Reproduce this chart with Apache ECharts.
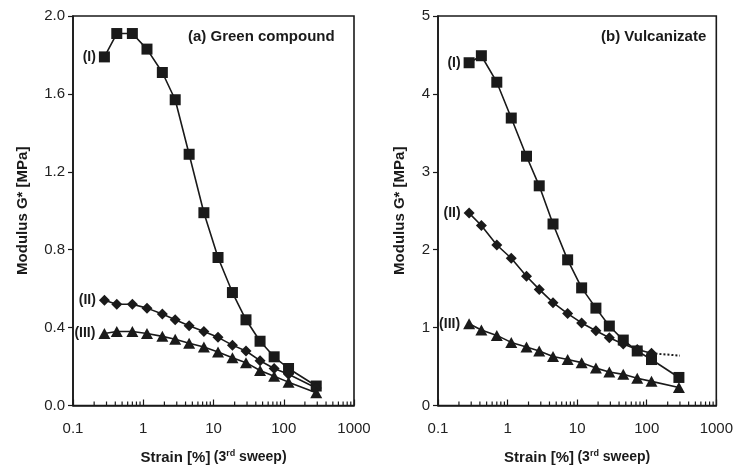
<!DOCTYPE html>
<html>
<head>
<meta charset="utf-8">
<script src="https://cdn.jsdelivr.net/npm/echarts@6/dist/echarts.min.js"></script>
<style>
  html, body { margin: 0; padding: 0; background: #fff; }
  #chart { width: 736px; height: 470px; }
</style>
</head>
<body>
<div id="chart"></div>
<script>
// strain steps (3rd sweep), shared by every curve
const strain = [0.28, 0.42, 0.7, 1.13, 1.87, 2.85, 4.5, 7.3, 11.6, 18.6, 29, 46, 73, 117, 290]

// (a) green compound, G* in MPa
const greenI = [1.79, 1.91, 1.91, 1.83, 1.71, 1.57, 1.29, 0.99, 0.76, 0.58, 0.44, 0.33, 0.25, 0.19, 0.10]
const greenII = [0.54, 0.52, 0.52, 0.50, 0.47, 0.44, 0.41, 0.38, 0.35, 0.31, 0.28, 0.23, 0.19, 0.16, 0.09]
const greenIII = [0.37, 0.38, 0.38, 0.37, 0.355, 0.34, 0.32, 0.30, 0.275, 0.245, 0.22, 0.18, 0.15, 0.12, 0.065]

// (b) vulcanizate, G* in MPa
const vulcI = [4.40, 4.49, 4.15, 3.69, 3.20, 2.82, 2.33, 1.87, 1.51, 1.25, 1.02, 0.84, 0.70, 0.59, 0.36]
const vulcII = [2.47, 2.31, 2.06, 1.89, 1.66, 1.49, 1.32, 1.18, 1.06, 0.96, 0.87, 0.79, 0.72, 0.67]
const vulcIIExtStrain = [117, 300]
const vulcIIExt = [0.67, 0.64]
const vulcIII = [1.05, 0.97, 0.90, 0.81, 0.75, 0.70, 0.63, 0.59, 0.55, 0.48, 0.43, 0.40, 0.35, 0.31, 0.23]

const curveNames = ['(I)', '(II)', '(III)']
const greenTicks = [0, 0.4, 0.8, 1.2, 1.6, 2.0]
const vulcTicks = [0, 1, 2, 3, 4, 5]

// minor tick positions on the log strain axis (2..9 in each decade)
const minorTicks = []
for (const base of [0.1, 1, 10, 100]) {
  for (let k = 2; k <= 9; k++) minorTicks.push(+(k * base).toPrecision(2))
}

const ink = '#1a1a1a'
const font = 'Liberation Sans, Arial, sans-serif'

const makeData = (xs, ys, name) =>
  ys.map((y, i) => {
    const item = { value: [xs[i], y] }
    if (i === 0 && name) {
      item.label = {
        show: true,
        position: 'left',
        distance: 3,
        formatter: name,
        color: ink,
        fontFamily: font,
        fontWeight: 'bold',
        fontSize: 14
      }
    }
    return item
  })

const curve = (idx, ys, symbol, size, name) => ({
  type: 'line',
  xAxisIndex: idx,
  yAxisIndex: idx,
  data: makeData(strain, ys, name),
  symbol: symbol,
  symbolSize: size,
  showAllSymbol: true,
  itemStyle: { color: ink },
  lineStyle: { color: ink, width: 1.6 },
  z: 3
})

const minorTickSeries = idx => ({
  type: 'custom',
  xAxisIndex: idx,
  yAxisIndex: idx,
  data: minorTicks.map(v => [v, 0]),
  silent: true,
  renderItem: (params, api) => {
    const p = api.coord([api.value(0), 0])
    return {
      type: 'line',
      shape: { x1: p[0], y1: p[1], x2: p[0], y2: p[1] - 4 },
      style: { stroke: ink, lineWidth: 1.2 }
    }
  },
  z: 2
})

const xAxisCfg = idx => ({
  type: 'log',
  gridIndex: idx,
  logBase: 10,
  min: 0.1,
  max: 1000,
  name: '{b|Strain [%]} {n|(3}{s|rd}{n| sweep)}',
  nameLocation: 'middle',
  nameGap: 44,
  nameTextStyle: {
    rich: {
      b: { fontFamily: font, fontWeight: 'bold', fontSize: 15, color: ink },
      n: { fontFamily: font, fontWeight: 'bold', fontSize: 14, color: ink },
      s: { fontFamily: font, fontWeight: 'bold', fontSize: 9, color: ink, verticalAlign: 'top', padding: [0, 0, 7, 0] }
    }
  },
  axisLine: { show: true, lineStyle: { color: ink, width: 1.6 } },
  axisTick: { show: true, inside: true, length: 6, lineStyle: { color: ink, width: 1.2 } },
  axisLabel: {
    color: '#222',
    fontFamily: font,
    fontSize: 15,
    margin: 16,
    formatter: v => String(+v.toPrecision(3))
  },
  splitLine: { show: false }
})

const yAxisCfg = (idx, ticks, digits, gap) => ({
  type: 'value',
  gridIndex: idx,
  min: ticks[0],
  max: ticks[ticks.length - 1],
  interval: ticks[1] - ticks[0],
  name: 'Modulus G* [MPa]',
  nameLocation: 'middle',
  nameGap: gap,
  nameTextStyle: { fontFamily: font, fontWeight: 'bold', fontSize: 15, color: ink },
  axisLine: { show: true, lineStyle: { color: ink, width: 1.6 } },
  axisTick: { show: true, inside: false, length: 5, lineStyle: { color: ink, width: 1.2 } },
  axisLabel: {
    color: '#222',
    fontFamily: font,
    fontSize: 15,
    margin: 8,
    formatter: v => v.toFixed(digits)
  },
  splitLine: { show: false }
})

const chart = echarts.init(document.getElementById('chart'))

chart.setOption({
  backgroundColor: '#fff',
  animation: false,
  title: [
    {
      text: '(a) Green compound',
      left: 183,
      top: 24,
      textStyle: { fontFamily: font, fontWeight: 'bold', fontSize: 15, color: ink }
    },
    {
      text: '(b) Vulcanizate',
      left: 596,
      top: 24,
      textStyle: { fontFamily: font, fontWeight: 'bold', fontSize: 15, color: ink }
    }
  ],
  grid: [
    { left: 73, right: 382, top: 16, bottom: 61, show: true, borderColor: ink, borderWidth: 1.6, backgroundColor: 'transparent' },
    { left: 438, right: 17, top: 16, bottom: 61, show: true, borderColor: ink, borderWidth: 1.6, backgroundColor: 'transparent' }
  ],
  xAxis: [xAxisCfg(0), xAxisCfg(1)],
  yAxis: [yAxisCfg(0, greenTicks, 1, 43), yAxisCfg(1, vulcTicks, 0, 31)],
  series: [
    curve(0, greenI, 'rect', 11, curveNames[0]),
    curve(0, greenII, 'diamond', [11, 11], curveNames[1]),
    curve(0, greenIII, 'triangle', [12, 11], curveNames[2]),
    curve(1, vulcI, 'rect', 11, curveNames[0]),
    curve(1, vulcII, 'diamond', [11, 11], curveNames[1]),
    {
      type: 'line',
      xAxisIndex: 1,
      yAxisIndex: 1,
      data: makeData(vulcIIExtStrain, vulcIIExt),
      symbol: 'none',
      lineStyle: { color: ink, width: 2, type: 'dotted' },
      z: 2
    },
    curve(1, vulcIII, 'triangle', [12, 11], curveNames[2]),
    minorTickSeries(0),
    minorTickSeries(1)
  ]
})
</script>
</body>
</html>
